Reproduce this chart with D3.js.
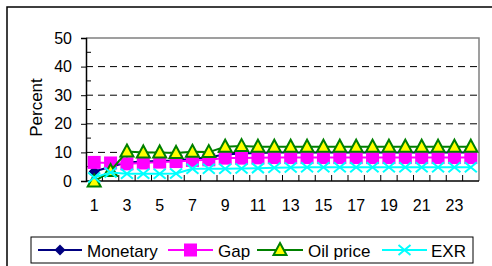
<!DOCTYPE html>
<html>
<head>
<meta charset="utf-8">
<script src="https://d3js.org/d3.v7.min.js"></script>
<style>
  body { margin: 0; background: #fff; }
  svg { display: block; font-family: "Liberation Sans", Arial, sans-serif; }
</style>
</head>
<body>
<div id="chart"></div>
<script>
// categories 1..24
var periods = d3.range(1, 25);
var tickLabels = periods.filter(function(d){ return d % 2 == 1; });
var yTicks = [0, 10, 20, 30, 40, 50];

var monetary = [3.3, 5, 6.5, 6.8, 7, 7.2, 7.8, 8.3, 9.3, 9.6, 9.8, 10, 10, 10, 10, 10, 10, 10, 10, 10, 10, 10, 10, 10];
var gap      = [6.5, 6.3, 6, 6.3, 6.6, 6.8, 7.2, 7.4, 8, 8, 8.1, 8.2, 8.2, 8.2, 8.2, 8.2, 8.2, 8.2, 8.2, 8.2, 8.2, 8.2, 8.2, 8.2];
var oil      = [-0.2, 3.5, 10.3, 10, 10, 9.8, 10.2, 10.1, 12, 12.2, 12, 12, 12, 12, 12, 12, 12, 12, 12, 12, 12, 12, 12, 12];
var exr      = [1.2, 3, 2.5, 2.5, 2.5, 2.6, 4.3, 4.3, 4.3, 4.4, 4.5, 4.6, 4.7, 4.8, 4.8, 4.8, 4.8, 4.8, 4.8, 4.8, 4.8, 4.8, 4.8, 4.8];

var W = 492, H = 266;
var pLeft = 86, pRight = 479, pTop = 38, pBottom = 181;

var svg = d3.select("#chart").append("svg").attr("width", W).attr("height", H);

// outer frame
svg.append("rect").attr("x", 7).attr("y", 7).attr("width", 600).attr("height", 400)
  .attr("fill", "none").attr("stroke", "#000").attr("stroke-width", 1.5);

var x = d3.scaleBand().domain(periods).range([pLeft, pRight]);
var y = d3.scaleLinear().domain([0, 50]).range([pBottom, pTop]);
function cx(i){ return x(periods[i]) + x.bandwidth()/2; }

// gridlines
svg.selectAll(".grid").data([10, 20, 30, 40]).enter().append("line")
  .attr("x1", pLeft).attr("x2", pRight)
  .attr("y1", function(d){ return y(d); }).attr("y2", function(d){ return y(d); })
  .attr("stroke", "#000").attr("stroke-width", 1).attr("stroke-dasharray", "7,5");

// plot area border (top/right grey)
svg.append("path")
  .attr("d", "M" + pLeft + "," + y(50) + "H" + pRight + "V" + pBottom)
  .attr("fill", "none").attr("stroke", "#808080").attr("stroke-width", 1.5);

// y axis
var yAxis = d3.axisLeft(y).tickValues(yTicks).tickSize(5).tickPadding(9);
var gy = svg.append("g").attr("transform", "translate(" + pLeft + ",0)").call(yAxis);
gy.select(".domain").attr("stroke", "#000").attr("stroke-width", 1.5);
gy.selectAll("text").attr("font-size", 16).attr("fill", "#000").attr("font-family", "Liberation Sans, Arial");
// minor ticks inside
svg.selectAll(".minor").data([5, 15, 25, 35, 45]).enter().append("line")
  .attr("x1", pLeft).attr("x2", pLeft + 5)
  .attr("y1", function(d){ return y(d); }).attr("y2", function(d){ return y(d); })
  .attr("stroke", "#000");

// x axis
svg.append("line").attr("x1", pLeft).attr("x2", pRight).attr("y1", pBottom).attr("y2", pBottom)
  .attr("stroke", "#000").attr("stroke-width", 1.5);
svg.selectAll(".xt").data(periods.slice(1)).enter().append("line")
  .attr("x1", function(d){ return x(d); }).attr("x2", function(d){ return x(d); })
  .attr("y1", pBottom).attr("y2", pBottom - 6)
  .attr("stroke", "#000");
svg.selectAll(".xl").data(tickLabels).enter().append("text")
  .attr("x", function(d){ return x(d) + x.bandwidth()/2; })
  .attr("y", 211).attr("text-anchor", "middle").attr("font-size", 16)
  .text(function(d){ return d; });

// y label
svg.append("text").attr("transform", "translate(42," + ((pTop + pBottom)/2 - 2) + ") rotate(-90)")
  .attr("text-anchor", "middle").attr("font-size", 17).text("Percent");

// marker shapes
function drawMarker(g, type, px, py){
  if (type == "diamond") {
    var r = 5.5;
    g.append("path").attr("d", "M" + px + "," + (py - r) + "L" + (px + r) + "," + py + "L" + px + "," + (py + r) + "L" + (px - r) + "," + py + "Z")
      .attr("fill", "#000080");
  } else if (type == "square") {
    g.append("rect").attr("x", px - 6.5).attr("y", py - 6.5).attr("width", 13).attr("height", 13)
      .attr("fill", "#ff00ff");
  } else if (type == "triangle") {
    g.append("path").attr("d", "M" + px + "," + (py - 7) + "L" + (px + 6.5) + "," + (py + 5) + "L" + (px - 6.5) + "," + (py + 5) + "Z")
      .attr("fill", "#ffff00").attr("stroke", "#008000").attr("stroke-width", 2).attr("stroke-linejoin", "miter");
  } else if (type == "x") {
    g.append("path").attr("d", "M" + (px - 6) + "," + (py - 5) + "L" + (px + 6) + "," + (py + 5) + "M" + (px + 6) + "," + (py - 5) + "L" + (px - 6) + "," + (py + 5))
      .attr("stroke", "#00ffff").attr("stroke-width", 2).attr("fill", "none");
  }
}

var series = [
  {name: "Monetary", values: monetary, color: "#000080", marker: "diamond"},
  {name: "Gap", values: gap, color: "#ff00ff", marker: "square"},
  {name: "Oil price", values: oil, color: "#008000", marker: "triangle"},
  {name: "EXR", values: exr, color: "#00ffff", marker: "x"}
];

var line = d3.line().x(function(d, i){ return cx(i); }).y(function(d){ return y(d); });

series.forEach(function(s){
  var g = svg.append("g");
  g.append("path").datum(s.values).attr("d", line)
    .attr("fill", "none").attr("stroke", s.color).attr("stroke-width", 2);
  s.values.forEach(function(v, i){ drawMarker(g, s.marker, cx(i), y(v)); });
});

// legend
svg.append("rect").attr("x", 31).attr("y", 237).attr("width", 442).attr("height", 26)
  .attr("fill", "#fff").attr("stroke", "#000").attr("stroke-width", 1);
var legPos = [
  {x1: 38, x2: 82, tx: 87},
  {x1: 168, x2: 213, tx: 218},
  {x1: 257, x2: 303, tx: 308},
  {x1: 382, x2: 427, tx: 431}
];
series.forEach(function(s, i){
  var p = legPos[i], ly = 250;
  var g = svg.append("g");
  g.append("line").attr("x1", p.x1).attr("x2", p.x2).attr("y1", ly).attr("y2", ly)
    .attr("stroke", s.color).attr("stroke-width", 2);
  drawMarker(g, s.marker, (p.x1 + p.x2)/2, ly);
  g.append("text").attr("x", p.tx).attr("y", ly + 6.5).attr("font-size", 17).text(s.name);
});
</script>
</body>
</html>
